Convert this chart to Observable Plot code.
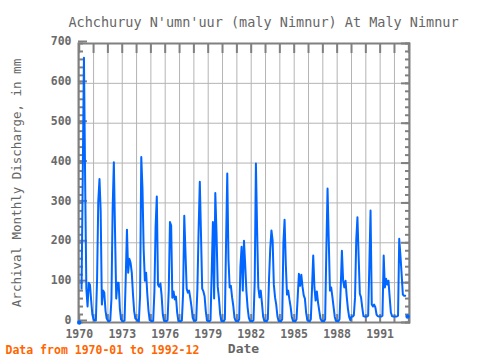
<!DOCTYPE html>
<html><head><meta charset="utf-8">
<script src="https://cdn.jsdelivr.net/npm/d3@7"></script>
<script src="https://cdn.jsdelivr.net/npm/@observablehq/plot@0.6"></script>
<style>body{margin:0;background:#fff} svg{display:block}</style>
</head><body><div id="chart"></div>
<script>
const titleText = "Achchuruy N'umn'uur (maly Nimnur) At Maly Nimnur";
const yLabel = "Archival Monthly Discharge, in mm";
const xLabel = "Date";
const footer = "Data from 1970-01 to 1992-12";
const firstYear = 1970;
const yTicks = [0, 100, 200, 300, 400, 500, 600, 700];
const xTickYears = [1970, 1973, 1976, 1979, 1982, 1985, 1988, 1991];

// monthly discharge (mm), Jan..Dec per year, NaN = missing
const discharge1970s = [
  0, NaN, 85, 374, 664, 350, 85, 40, 100, 95, 55, 20,
  8, 5, 5, 110, 305, 360, 280, 45, 80, 75, 30, 10,
  5, 3, 5, 60, 285, 402, 228, 60, 100, 100, 35, 8,
  4, 3, 5, 115, 233, 125, 160, 150, 125, 72, 28, 10,
  8, 4, 3, 68, 415, 336, 183, 105, 125, 72, 30, 6,
  5, 3, 4, 78, 240, 316, 95, 90, 98, 68, 20, 4,
  4, 3, 6, 82, 252, 243, 62, 78, 58, 65, 25, 4,
  4, 3, 5, 72, 268, 175, 85, 75, 80, 62, 40, 12,
  5, 4, 6, 85, 231, 353, 222, 85, 78, 66, 28, 5,
  4, 3, 6, 130, 252, 60, 325, 225, 90, 62, 22, 4
];
const discharge1980s = [
  4, 3, 8, 205, 374, 158, 88, 92, 63, 42, 12, 4,
  4, 3, 8, 140, 190, 80, 205, 145, 78, 38, 12, 4,
  4, 3, 6, 105, 399, 231, 88, 63, 80, 50, 15, 4,
  4, 3, 8, 110, 185, 231, 206, 95, 63, 45, 15, 4,
  4, 3, 8, 200, 258, 147, 70, 80, 58, 40, 14, 4,
  4, 3, 8, 65, 122, 92, 120, 90, 68, 60, 25, 6,
  4, 3, 8, 88, 168, 88, 55, 78, 50, 30, 10, 4,
  4, 3, 8, 185, 336, 206, 80, 88, 65, 40, 14, 4,
  4, 3, 8, 88, 180, 105, 88, 105, 65, 35, 14, 6,
  15, 15, 18, 63, 206, 264, 168, 72, 63, 38, 16, 15
];
const discharge1990s = [
  15, 15, 17, 147, 281, 45, 40, 45, 38, 20, 16, 15,
  15, 15, 17, 168, 88, 110, 95, 105, 63, 25, 16, 15,
  15, 15, 15, 17, 210, 168, 122, 70, 67, 67, NaN, 15
];

const values = [...discharge1970s, ...discharge1980s, ...discharge1990s];
const data = values.map((v, i) => ({date: new Date(Date.UTC(firstYear, i, 1)), value: v}));
const isolated = data.filter((d, i) => !isNaN(d.value) &&
  (i === 0 || isNaN(data[i - 1].value)) && (i === data.length - 1 || isNaN(data[i + 1].value)));

const yearDates = d3.range(1970, 1994).map(y => new Date(Date.UTC(y, 0, 1)));
const labelDates = xTickYears.map(y => new Date(Date.UTC(y, 0, 1)));
const minor = d3.range(0, 701, 20);
const gray = "#808080";

const chart = Plot.plot({
  width: 480, height: 360,
  marginLeft: 78, marginRight: 71, marginTop: 43, marginBottom: 38,
  style: {fontFamily: "DejaVu Sans Mono", fontSize: "11.5px", color: "#6a6a6a", background: "#fff"},
  x: {type: "utc", domain: [new Date(Date.UTC(1969, 11, 13)), new Date(Date.UTC(1993, 0, 18))]},
  y: {domain: [0, 700]},
  marks: [
    Plot.gridX(yearDates, {stroke: "#b4b4b4", strokeOpacity: 1, strokeWidth: 1}),
    Plot.gridY(yTicks, {stroke: "#b4b4b4", strokeOpacity: 1, strokeWidth: 1}),
    Plot.axisY({anchor: "left", ticks: minor, tickSize: -5, tickFormat: () => "", stroke: gray, strokeWidth: 2, label: null}),
    Plot.axisY({anchor: "left", ticks: yTicks, tickSize: -9, tickPadding: 16, dy: -2, stroke: gray, strokeWidth: 2, fontWeight: "bold", label: null}),
    Plot.axisY({anchor: "right", ticks: minor, tickSize: -5, tickFormat: () => "", stroke: gray, strokeWidth: 2, label: null}),
    Plot.axisY({anchor: "right", ticks: yTicks, tickSize: -9, tickFormat: () => "", stroke: gray, strokeWidth: 2, label: null}),
    Plot.axisX({anchor: "top", ticks: yearDates, tickSize: -9, tickFormat: () => "", stroke: gray, strokeWidth: 2, label: null}),
    Plot.axisX({anchor: "bottom", ticks: yearDates, tickSize: -8, tickFormat: () => "", stroke: gray, strokeWidth: 2, label: null}),
    Plot.axisX({anchor: "bottom", ticks: labelDates, tickSize: 0, tickPadding: 7, tickFormat: d => String(d.getUTCFullYear()), fontWeight: "bold", label: null}),
    Plot.frame({stroke: gray, strokeWidth: 2}),
    Plot.line(data, {x: "date", y: "value", stroke: "#0066ff", strokeWidth: 2, curve: "linear"}),
    Plot.dot(isolated, {x: "date", y: "value", fill: "#0066ff", r: 2.2}),
    Plot.text([titleText], {frameAnchor: "top-left", dx: 185, dy: -26, textAnchor: "middle", fontSize: 13.5, fill: "#666"}),
    Plot.text([xLabel], {frameAnchor: "bottom-left", dx: 165, dy: 30, textAnchor: "middle", fontSize: 13, fontWeight: "bold", fill: "#666"}),
    Plot.text([footer], {frameAnchor: "bottom-left", dx: -73, dy: 31, textAnchor: "start", fontSize: 11.5, fontWeight: "bold", fill: "#ff6600"}),
    Plot.text([yLabel], {frameAnchor: "left", dx: -62, dy: 0, rotate: -90, textAnchor: "middle", fontSize: 12.5, fill: "#666"})
  ]
});
document.getElementById("chart").appendChild(chart);
</script>
</body></html>
